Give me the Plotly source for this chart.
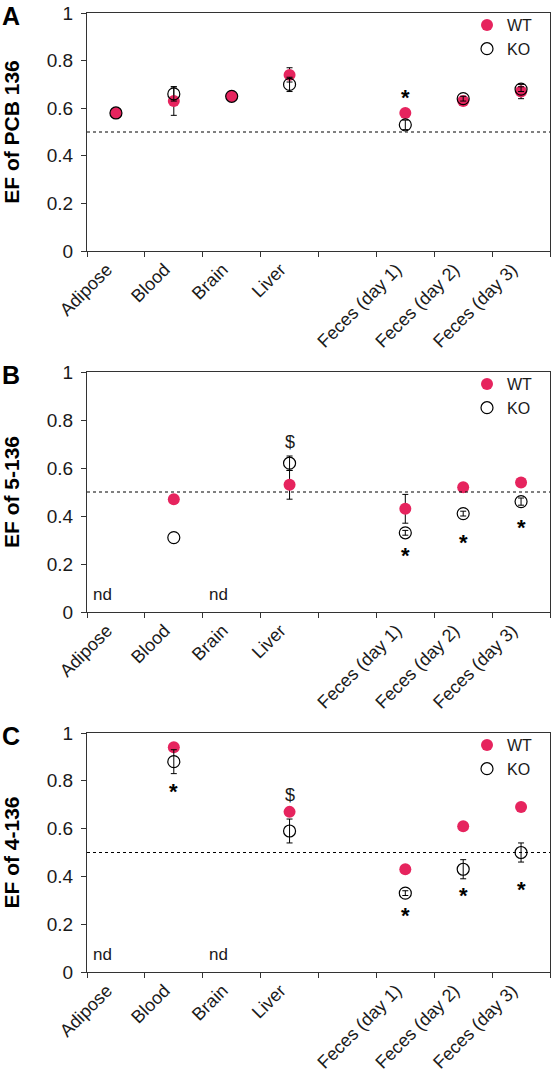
import plotly.graph_objects as go

# ---------------- data ----------------
categories = ["Adipose", "Blood", "Brain", "Liver", " ",
              "Feces (day 1)", "Feces (day 2)", "Feces (day 3)"]

# Panel A: EF of PCB 136
a_wt = [0.58, 0.63, 0.65, 0.74, None, 0.58, 0.63, 0.67]
a_wt_err = [None, 0.06, None, 0.03, None, None, 0.01, 0.03]
a_ko = [0.58, 0.66, 0.65, 0.70, None, 0.53, 0.64, 0.68]
a_ko_err = [None, 0.03, None, 0.03, None, 0.02, 0.01, 0.01]

# Panel B: EF of 5-136
b_wt = [None, 0.47, None, 0.53, None, 0.43, 0.52, 0.54]
b_wt_err = [None, None, None, 0.06, None, 0.06, None, None]
b_ko = [None, 0.31, None, 0.62, None, 0.33, 0.41, 0.46]
b_ko_err = [None, None, None, 0.03, None, 0.01, 0.01, 0.015]

# Panel C: EF of 4-136
c_wt = [None, 0.94, None, 0.67, None, 0.43, 0.61, 0.69]
c_wt_err = [None, None, None, None, None, None, None, None]
c_ko = [None, 0.88, None, 0.59, None, 0.33, 0.43, 0.50]
c_ko_err = [None, 0.05, None, 0.05, None, 0.01, 0.04, 0.04]

# significance marks (category, y)
a_star_cats = ["Feces (day 1)"]
a_star_y = [0.655]
b_star_cats = ["Feces (day 1)", "Feces (day 2)", "Feces (day 3)"]
b_star_y = [0.245, 0.30, 0.36]
b_dollar_cats = ["Liver"]
b_dollar_y = [0.71]
c_star_cats = ["Blood", "Feces (day 1)", "Feces (day 2)", "Feces (day 3)"]
c_star_y = [0.765, 0.244, 0.33, 0.355]
c_dollar_cats = ["Liver"]
c_dollar_y = [0.74]
nd_cats = ["Adipose", "Brain"]
nd_y = 0.075

panel_letters = ["A", "B", "C"]
y_titles = ["EF of PCB 136", "EF of 5-136", "EF of 4-136"]
ref_line = 0.5

# ---------------- styling ----------------
W, H = 551, 1077
PINK = "#E6245E"
AX = "#333333"
FONT = "Liberation Sans, Arial, sans-serif"
# pixel positions of plot areas (top, bottom)
px_rows = [(13, 251), (372, 612), (733, 972)]
x_dom = [87 / W, 550 / W]

panels = [
    dict(wt=a_wt, wte=a_wt_err, ko=a_ko, koe=a_ko_err,
         stars=(a_star_cats, a_star_y), dollars=([], []), nd=False),
    dict(wt=b_wt, wte=b_wt_err, ko=b_ko, koe=b_ko_err,
         stars=(b_star_cats, b_star_y), dollars=(b_dollar_cats, b_dollar_y), nd=True),
    dict(wt=c_wt, wte=c_wt_err, ko=c_ko, koe=c_ko_err,
         stars=(c_star_cats, c_star_y), dollars=(c_dollar_cats, c_dollar_y), nd=True),
]


def err_subset(vals, errs):
    xs, ys, es = [], [], []
    for c, v, e in zip(categories, vals, errs):
        if v is not None and e is not None:
            xs.append(c)
            ys.append(v)
            es.append(e)
    return xs, ys, es


fig = go.Figure()
annotations = []
shapes = []
layout = dict(
    width=W, height=H,
    margin=dict(l=0, r=0, t=0, b=0, autoexpand=False),
    paper_bgcolor="white", plot_bgcolor="white",
    font=dict(family=FONT, color="#1a1a1a"),
    showlegend=True,
)

for i, p in enumerate(panels):
    sfx = "" if i == 0 else str(i + 1)
    xa, ya = "x" + sfx, "y" + sfx
    leg = "legend" + sfx
    top, bot = px_rows[i]
    y_dom = [1 - bot / H, 1 - top / H]

    for name, vals, errs, marker in [
        ("WT", p["wt"], p["wte"],
         dict(symbol="circle", size=12, color=PINK, line=dict(width=0))),
        ("KO", p["ko"], p["koe"],
         dict(symbol="circle-open", size=12, color="black",
              line=dict(width=1.2, color="black"))),
    ]:
        ex, ey, ee = err_subset(vals, errs)
        if ex:
            fig.add_trace(go.Scatter(
                x=ex, y=ey, mode="markers", showlegend=False, hoverinfo="skip",
                xaxis=xa, yaxis=ya,
                marker=dict(size=1, color="rgba(0,0,0,0)"),
                error_y=dict(type="data", array=ee, color="black",
                             thickness=1, width=3, visible=True),
                cliponaxis=False,
            ))
        fig.add_trace(go.Scatter(
            x=categories, y=vals, mode="markers", name=name,
            xaxis=xa, yaxis=ya, legend=leg, marker=marker, cliponaxis=False,
        ))

    layout["xaxis" + sfx] = dict(
        domain=x_dom, anchor=ya, type="category", automargin=False,
        categoryorder="array", categoryarray=categories,
        range=[-0.5, len(categories) - 0.5],
        tickson="boundaries", ticks="outside", ticklen=5, tickcolor=AX,
        tickangle=-45, ticklabelshift=-9,
        tickfont=dict(size=18, family=FONT, color="#1a1a1a"),
        showline=True, linecolor=AX, linewidth=1, mirror=True,
        showgrid=False, zeroline=False, fixedrange=True,
    )
    layout["yaxis" + sfx] = dict(
        domain=y_dom, anchor=xa, range=[0, 1], dtick=0.2, tick0=0,
        automargin=False,
        ticks="outside", ticklen=5, tickcolor=AX, ticklabelstandoff=4,
        tickfont=dict(size=19, family=FONT, color="#1a1a1a"),
        showline=True, linecolor=AX, linewidth=1, mirror=True,
        showgrid=False, zeroline=False, fixedrange=True,
        title=dict(text="<b>" + y_titles[i] + "</b>", standoff=28,
                   font=dict(size=21, family=FONT, color="black")),
    )
    layout[leg] = dict(
        x=467 / W, xanchor="left", y=1 - (top - 5) / H, yanchor="top",
        bgcolor="rgba(0,0,0,0)", borderwidth=0,
        font=dict(size=16, family=FONT, color="#1a1a1a"),
        itemwidth=30, tracegroupgap=0,
    )

    # dashed reference line
    shapes.append(dict(type="line", xref=xa + " domain", yref=ya,
                       x0=0, x1=1, y0=ref_line, y1=ref_line,
                       line=dict(color="black", width=1, dash="3px,3px")))

    # panel letter
    annotations.append(dict(text="<b>" + panel_letters[i] + "</b>",
                            xref="paper", yref="paper",
                            x=11 / W, y=1 - (top + 3) / H,
                            xanchor="center", yanchor="middle", showarrow=False,
                            font=dict(size=25, family=FONT, color="black")))

    # stars
    for c, yv in zip(*p["stars"]):
        annotations.append(dict(text="<b>*</b>", x=c, y=yv, xref=xa, yref=ya,
                                showarrow=False, yshift=-2,
                                font=dict(size=22, family=FONT, color="black")))
    for c, yv in zip(*p["dollars"]):
        annotations.append(dict(text="$", x=c, y=yv, xref=xa, yref=ya,
                                showarrow=False,
                                font=dict(size=18, family=FONT, color="#1a1a1a")))
    if p["nd"]:
        for c in nd_cats:
            annotations.append(dict(text="nd", x=c, y=nd_y, xref=xa, yref=ya,
                                    showarrow=False, xshift=-13,
                                    font=dict(size=17, family=FONT, color="#1a1a1a")))

layout["annotations"] = annotations
layout["shapes"] = shapes
fig.update_layout(**layout)

fig.write_html("out.html",
               config={"displayModeBar": False},
               post_script="document.body.style.margin='0';"
                           "document.body.style.overflow='hidden';")
